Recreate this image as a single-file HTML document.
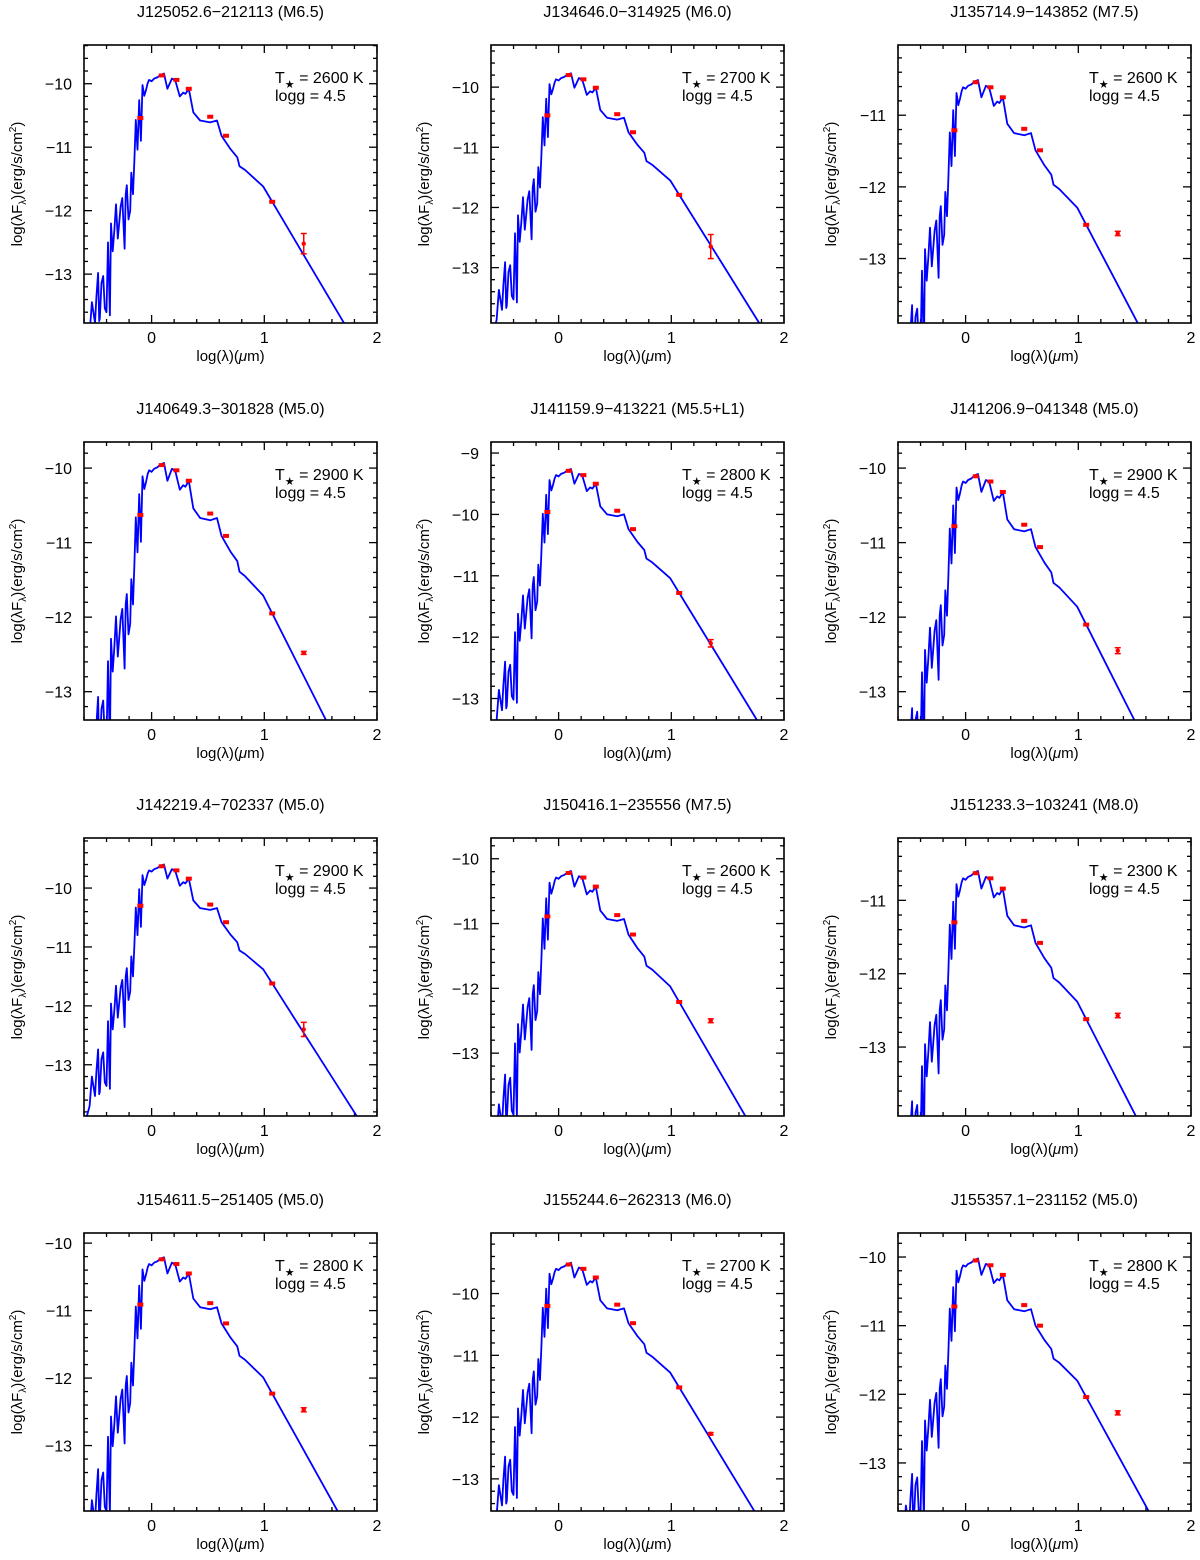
<!DOCTYPE html>
<html><head><meta charset="utf-8">
<style>
body{margin:0;background:#fff;}
svg{display:block;font-family:"Liberation Sans",sans-serif;}
</style></head>
<body>
<svg id="fig" width="1200" height="1560" viewBox="0 0 1200 1560" xmlns="http://www.w3.org/2000/svg"></svg>
<script>
// Model spectrum template: log(lambda) and flux relative to peak
const templateX = [-0.62,-0.55,-0.53,-0.502,-0.49,-0.475,-0.465,-0.46,-0.445,-0.43,-0.415,-0.40,-0.387,-0.37,-0.36,-0.345,-0.33,-0.316,-0.30,-0.29,-0.275,-0.26,-0.24,-0.23,-0.22,-0.205,-0.19,-0.18,-0.165,-0.153,-0.14,-0.125,-0.11,-0.095,-0.081,-0.065,-0.05,-0.035,-0.022,0.0,0.022,0.05,0.08,0.11,0.14,0.18,0.21,0.25,0.28,0.30,0.33,0.37,0.43,0.52,0.58,0.62,0.70,0.76,0.78,0.83,0.99,1.14,1.29,1.47,1.70,2.05];
const templateY = [-4.6,-4.1,-3.6,-3.93,-3.52,-3.14,-3.9,-3.86,-3.3,-3.19,-3.7,-3.76,-2.66,-3.81,-2.36,-2.8,-2.46,-2.06,-2.6,-2.41,-2.1,-1.96,-2.76,-1.9,-1.76,-2.3,-2.16,-1.56,-1.9,-1.36,-0.73,-1.2,-0.42,-1.06,-0.18,-0.35,-0.26,-0.15,-0.10,-0.12,-0.08,-0.06,-0.02,0.0,-0.24,-0.08,-0.11,-0.36,-0.30,-0.32,-0.24,-0.61,-0.74,-0.77,-0.74,-0.98,-1.19,-1.32,-1.46,-1.52,-1.78,-2.23,-2.68,-3.22,-3.91,-4.96];
// Photometric bands (log lambda)
const photX = [-0.1,0.09,0.22,0.33,0.52,0.66,1.07];
const photOffset = [-0.70,-0.03,-0.10,-0.24,-0.68,-0.98,-2.02];
// Per-panel data
const titles = ["J125052.6\u2212212113 (M6.5)","J134646.0\u2212314925 (M6.0)","J135714.9\u2212143852 (M7.5)","J140649.3\u2212301828 (M5.0)","J141159.9\u2212413221 (M5.5+L1)","J141206.9\u2212041348 (M5.0)","J142219.4\u2212702337 (M5.0)","J150416.1\u2212235556 (M7.5)","J151233.3\u2212103241 (M8.0)","J154611.5\u2212251405 (M5.0)","J155244.6\u2212262313 (M6.0)","J155357.1\u2212231152 (M5.0)"];
const teffs = [2600,2700,2600,2900,2800,2900,2900,2600,2300,2800,2700,2800];
const peaks = [-9.84,-9.77,-10.51,-9.93,-9.26,-10.08,-9.6,-10.19,-10.6,-10.21,-9.5,-10.02];
const yTop = [-9.39,-9.3,-10.02,-9.65,-8.82,-9.65,-9.15,-9.68,-10.15,-9.85,-9.02,-9.65];
const yBottom = [-13.77,-13.92,-13.9,-13.38,-13.35,-13.38,-13.87,-13.97,-13.94,-13.97,-13.52,-13.7];
const w4Vals = [-12.52,-12.65,-12.65,-12.48,-12.1,-12.45,-12.4,-12.5,-12.57,-12.47,-12.27,-12.27];
const w4Err = [0.16,0.2,0.03,0.02,0.06,0.04,0.12,0.03,0.03,0.03,0.02,0.03];
const xTicks = [0,1,2];

const NS="http://www.w3.org/2000/svg";
const svg=document.getElementById('fig');
function mk(tag,attrs,parent){const e=document.createElementNS(NS,tag);for(const k in attrs)e.setAttribute(k,attrs[k]);(parent||svg).appendChild(e);return e;}
const colL=[84,491,898], rowT=[45,442,838,1233], W=293, H=278, XMIN=-0.6, XMAX=2;

titles.forEach((title,i)=>{
  const c=i%3, r=Math.floor(i/3);
  const L=colL[c], T=rowT[r];
  const g=mk('g',{});
  
  
  const sx=v=>L+(v-XMIN)/(XMAX-XMIN)*W;
  const sy=v=>T+(yTop[i]-v)/(yTop[i]-yBottom[i])*H;
  const clipId='clip'+i;
  const cp=mk('clipPath',{id:clipId},g); mk('rect',{x:L,y:T,width:W,height:H},cp);
  const tt=mk('text',{x:L+W/2,y:T-28,'text-anchor':'middle','font-size':16,fill:'#000'},g);
  tt.textContent=title;
  
  
  const tg=mk('g',{stroke:'#000','stroke-width':1.3},g);
  for(let k=-3;k<=10;k++){const xv=k*0.2; if(xv<XMIN-1e-6||xv>XMAX+1e-6)continue;
    const major=Math.abs(xv-Math.round(xv))<1e-6; const len=major?8:4; const px=sx(xv);
    mk('line',{x1:px,y1:T+H,x2:px,y2:T+H-len},tg); mk('line',{x1:px,y1:T,x2:px,y2:T+len},tg);}
  for(let k=Math.ceil(yBottom[i]*5);k<=Math.floor(yTop[i]*5);k++){const yv=k/5;
    const major=Math.abs(yv-Math.round(yv))<1e-6; const len=major?8:4; const py=sy(yv);
    mk('line',{x1:L,y1:py,x2:L+len,y2:py},tg); mk('line',{x1:L+W,y1:py,x2:L+W-len,y2:py},tg);
    if(major){const t=mk('text',{x:L-12,y:py+6,'text-anchor':'end','font-size':16,fill:'#000',stroke:'none'},g);
      t.textContent='\u2212'+Math.abs(Math.round(yv));
      
      }}
  xTicks.forEach(v=>{const t=mk('text',{x:sx(v),y:T+H+20,'text-anchor':'middle','font-size':16,fill:'#000'},g);
    t.textContent=String(v);
    
    });
  const pts=templateX.map((x,j)=>sx(x).toFixed(1)+','+sy(peaks[i]+templateY[j]).toFixed(1)).join(' ');
  const pl=mk('polyline',{points:pts,fill:'none',stroke:'#0000ff','stroke-width':1.8,'stroke-linejoin':'round','clip-path':'url(#'+clipId+')'},g);
  
  
  const pg=mk('g',{fill:'#ff0000',stroke:'#ff0000'},g);
  photX.forEach((x,j)=>{const d=mk('rect',{x:sx(x)-3,y:sy(peaks[i]+photOffset[j])-2,width:6,height:4,stroke:'none'},pg);
    
    });
  const wx=sx(1.35), wy=sy(w4Vals[i]);
  mk('line',{x1:wx,y1:sy(w4Vals[i]+w4Err[i]),x2:wx,y2:sy(w4Vals[i]-w4Err[i]),'stroke-width':1.5},pg);
  mk('line',{x1:wx-3,y1:sy(w4Vals[i]+w4Err[i]),x2:wx+3,y2:sy(w4Vals[i]+w4Err[i]),'stroke-width':1.5},pg);
  mk('line',{x1:wx-3,y1:sy(w4Vals[i]-w4Err[i]),x2:wx+3,y2:sy(w4Vals[i]-w4Err[i]),'stroke-width':1.5},pg);
  const w4=mk('circle',{cx:wx,cy:wy,r:2.2,stroke:'none'},pg);
  
  
  mk('rect',{x:L,y:T,width:W,height:H,fill:'none',stroke:'#000','stroke-width':1.6},g);
  const a1=mk('text',{x:L+191,y:T+38,'font-size':16,fill:'#000'},g);
  a1.innerHTML='T<tspan font-size="11" dy="5">\u2605</tspan><tspan dy="-5"> = '+teffs[i]+' K</tspan>';
  
  
  const a2=mk('text',{x:L+191,y:T+56,'font-size':16,fill:'#000'},g);
  a2.textContent='logg = 4.5';
  
  
  const xl=mk('text',{x:L+W/2,y:T+H+38,'text-anchor':'middle','font-size':15,fill:'#000'},g);
  xl.innerHTML='log(\u03bb)(<tspan font-style="italic">\u03bc</tspan>m)';
  
  
  const yx=L-62, yy=T+H/2;
  const yl=mk('text',{x:yx,y:yy,'text-anchor':'middle','font-size':15,fill:'#000',transform:'rotate(-90 '+yx+' '+yy+')'},g);
  yl.innerHTML='log(\u03bbF<tspan font-size="10" dy="4">\u03bb</tspan><tspan dy="-4">)(erg/s/cm</tspan><tspan font-size="10" dy="-6">2</tspan><tspan dy="6">)</tspan>';
  
  
});
</script>
</body></html>
